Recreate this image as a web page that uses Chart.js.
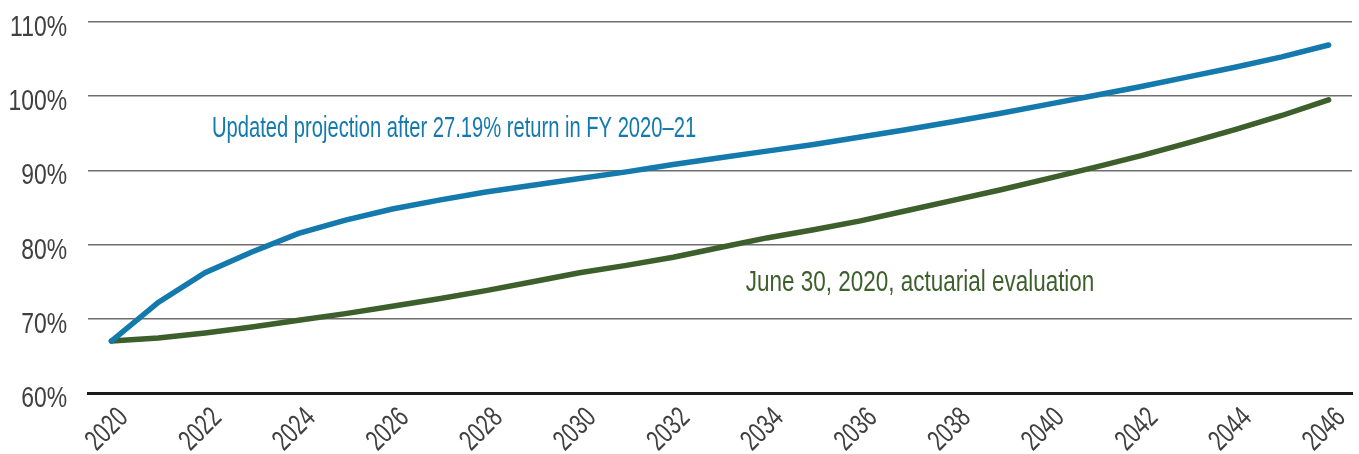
<!DOCTYPE html>
<html>
<head>
<meta charset="utf-8">
<script src="https://cdn.jsdelivr.net/npm/chart.js@4"></script>
<style>
  html, body { margin: 0; padding: 0; background: #fff; }
  #wrap { width: 1359px; height: 454px; }
</style>
</head>
<body>
<div id="wrap"><canvas id="fundedChart"></canvas></div>
<script>
const years = ['2020','2021','2022','2023','2024','2025','2026','2027','2028','2029','2030','2031','2032','2033',
    '2034','2035','2036','2037','2038','2039','2040','2041','2042','2043','2044','2045','2046'];
const updatedProjection = [67.0, 72.2, 76.2, 79.0, 81.5, 83.3, 84.8, 86.0, 87.1, 88.0, 88.9, 89.8, 90.8, 91.7,
    92.6, 93.5, 94.5, 95.5, 96.6, 97.7, 98.9, 100.1, 101.3, 102.6, 103.9, 105.3, 106.9];
const actuarialEval = [67.0, 67.4, 68.1, 68.9, 69.8, 70.7, 71.7, 72.7, 73.8, 75.0, 76.2, 77.2, 78.3, 79.6,
    80.9, 82.0, 83.2, 84.6, 86.0, 87.4, 88.9, 90.4, 92.0, 93.7, 95.5, 97.4, 99.5];
const yTicks = [60, 70, 80, 90, 100, 110];
const xTickLabels = ['2020','2022','2024','2026','2028','2030','2032','2034','2036','2038','2040','2042','2044','2046'];
const seriesNames = ['Updated projection after 27.19% return in FY 2020\u201321', 'June 30, 2020, actuarial evaluation'];

const BLUE = '#1479ac';
const GREEN = '#3d5f2b';
const TICK_COLOR = '#404040';
// no condensed face is installed, so text is squeezed horizontally
const FONT = '29px "Liberation Sans", Arial, sans-serif';

// labels sit next to the lines, placed in data units
const lineLabels = [
    { text: seriesNames[0], color: BLUE, x: 2.15, y: 95.6, squeeze: 0.695 },
    { text: seriesNames[1], color: GREEN, x: 13.55, y: 74.8, squeeze: 0.775 }
];

function squeezedText(ctx, text, x, y, angle, align, sx) {
    ctx.save();
    ctx.translate(x, y);
    ctx.rotate(angle);
    ctx.scale(sx, 1);
    ctx.textAlign = align;
    ctx.fillText(text, 0, 0);
    ctx.restore();
}

const textPlugin = {
    id: 'condensedText',
    afterDraw(chart) {
        const ctx = chart.ctx;
        const xs = chart.scales.x, ys = chart.scales.y;
        const area = chart.chartArea;
        ctx.save();
        ctx.font = FONT;
        ctx.textBaseline = 'alphabetic';

        // y tick labels
        ctx.fillStyle = TICK_COLOR;
        yTicks.forEach(v => {
            squeezedText(ctx, v + '%', area.left - 21, ys.getPixelForValue(v) + 14, 0, 'right', 0.79);
        });

        // x tick labels, rotated 45 degrees
        xTickLabels.forEach(lab => {
            const px = xs.getPixelForValue(years.indexOf(lab));
            squeezedText(ctx, lab, px + 18, area.bottom + 26, -Math.PI / 4, 'right', 0.72);
        });

        // series labels
        const step = xs.getPixelForValue(1) - xs.getPixelForValue(0);
        ctx.textBaseline = 'middle';
        lineLabels.forEach(l => {
            ctx.fillStyle = l.color;
            squeezedText(ctx, l.text, xs.getPixelForValue(0) + l.x * step, ys.getPixelForValue(l.y), 0, 'left', l.squeeze);
        });
        ctx.restore();
    }
};

const ctx = document.getElementById('fundedChart').getContext('2d');
new Chart(ctx, {
    type: 'line',
    data: {
        labels: years,
        datasets: [{
            label: seriesNames[0],
            data: updatedProjection,
            borderColor: BLUE,
            borderWidth: 5.5,
            borderCapStyle: 'round',
            pointRadius: 0,
            tension: 0
        }, {
            label: seriesNames[1],
            data: actuarialEval,
            borderColor: GREEN,
            borderWidth: 5.5,
            borderCapStyle: 'round',
            pointRadius: 0,
            tension: 0
        }]
    },
    options: {
        responsive: true,
        maintainAspectRatio: false,
        animation: false,
        layout: { padding: { top: 22, right: 7, left: 88, bottom: 61 } },
        plugins: {
            legend: { display: false },
            tooltip: { enabled: false }
        },
        scales: {
            x: {
                offset: true,
                grid: { display: false, drawTicks: false },
                border: { display: true, color: '#1a1a1a', width: 3 },
                ticks: { display: false }
            },
            y: {
                min: yTicks[0],
                max: yTicks[yTicks.length - 1],
                afterBuildTicks: axis => { axis.ticks = yTicks.map(v => ({ value: v })); },
                grid: { color: '#6e6e6e', lineWidth: 1.5, drawTicks: false },
                border: { display: false },
                ticks: { display: false }
            }
        }
    },
    plugins: [textPlugin]
});
</script>
</body>
</html>
